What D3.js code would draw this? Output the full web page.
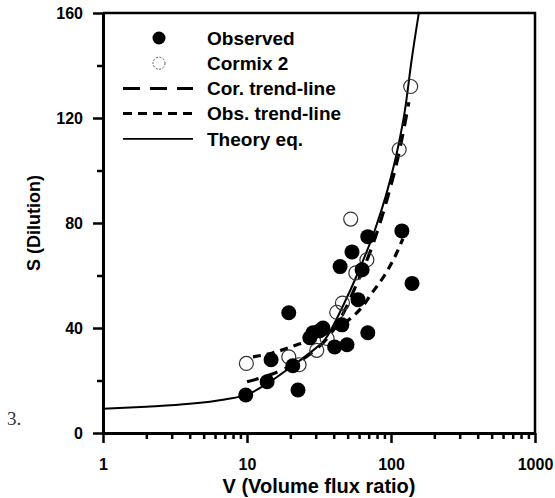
<!DOCTYPE html>
<html>
<head>
<meta charset="utf-8">
<script src="https://cdn.jsdelivr.net/npm/d3@7/dist/d3.min.js"></script>
<style>
  body { margin: 0; background: #fff; }
  svg { display: block; }
  text { font-family: "Liberation Sans", Arial, sans-serif; font-weight: bold; fill: #000; }
</style>
</head>
<body>
<svg id="chart"></svg>
<script>
// observed dilution (filled dots)
const obsV = [9.8, 13.8, 14.7, 19.5, 20.8, 22.6, 27.3, 28.7, 32, 33.7, 40.6, 44.3, 45.6, 49.5, 53.6, 59, 63, 69, 69, 119, 140];
const obsS = [14.5, 19.5, 27.9, 45.8, 25.6, 16.4, 36.3, 38.2, 39, 40, 32.8, 63.4, 41.2, 33.6, 69, 50.8, 62.2, 74.8, 38.2, 77, 57];

// Cormix 2 predictions (open circles)
const cormixV = [9.9, 19.5, 23, 30.5, 36, 42, 46, 57, 68, 52.5, 114, 137];
const cormixS = [26.5, 29, 26, 31.5, 36, 46, 49.5, 61, 66, 81.5, 108, 132];

// trend lines and theory curve
const corTrendV = [10, 15, 20, 28, 36, 46, 58, 75, 95, 115, 133];
const corTrendS = [19.5, 22.5, 25.5, 30.5, 36, 45, 57, 72, 90, 108, 126];
const obsTrendV = [11, 15, 22, 30, 40, 52, 63, 73, 90, 105, 121];
const obsTrendS = [29, 30.5, 33.5, 36, 39.5, 43.5, 48, 53, 60, 66.5, 74];
const theoryV = [1, 2, 4, 7, 10, 14, 20, 28, 35, 46, 60, 78, 95, 111, 125, 139, 156];
const theoryS = [9.2, 10, 11.1, 12.8, 14.6, 19, 25, 31, 35.8, 48, 62, 78, 93, 108, 123, 142, 160];

const xMajor = [1, 10, 100, 1000];
const yMajor = [0, 40, 80, 120, 160];
const yMinor = [20, 60, 100, 140];
const legendLabels = ['Observed', 'Cormix 2', 'Cor. trend-line', 'Obs. trend-line', 'Theory eq.'];

const W = 555, H = 498;
const plot = { left: 103, right: 535, top: 13, bottom: 433 };

const svg = d3.select('#chart').attr('width', W).attr('height', H);

const x = d3.scaleLog().domain([1, 1000]).range([plot.left, plot.right]);
const y = d3.scaleLinear().domain([0, 160]).range([plot.bottom, plot.top]);

const xMinor = [];
xMajor.slice(0, 3).forEach(d => { for (let k = 2; k <= 9; k++) xMinor.push(d * k); });

// frame (top and right)
svg.append('path')
  .attr('d', `M${plot.left},${plot.top}H${plot.right}V${plot.bottom}`)
  .attr('fill', 'none').attr('stroke', '#000').attr('stroke-width', 2.5);

// x axis
const gx = svg.append('g').attr('transform', `translate(0,${plot.bottom})`);
gx.append('g').call(d3.axisBottom(x).tickValues(xMinor).tickSize(6).tickFormat('').tickSizeOuter(0))
  .call(g => g.select('.domain').remove());
gx.append('g').call(d3.axisBottom(x).tickValues(xMajor).tickSize(10).tickPadding(16)
    .tickFormat(d3.format('d')).tickSizeOuter(0))
  .call(g => g.select('.domain').attr('stroke-width', 3));
gx.selectAll('line').attr('stroke-width', 2.5);
gx.selectAll('text').style('font-size', '16px').style('font-weight', 'bold');

// y axis
const gy = svg.append('g').attr('transform', `translate(${plot.left},0)`);
gy.append('g').call(d3.axisLeft(y).tickValues(yMinor).tickSize(6).tickFormat('').tickSizeOuter(0))
  .call(g => g.select('.domain').remove());
gy.append('g').call(d3.axisLeft(y).tickValues(yMajor).tickSize(10).tickPadding(10).tickSizeOuter(0))
  .call(g => g.select('.domain').attr('stroke-width', 3));
gy.selectAll('line').attr('stroke-width', 2.5);
gy.selectAll('text').style('font-size', '16px').style('font-weight', 'bold');

// axis titles
svg.append('text')
  .attr('x', (plot.left + plot.right) / 2).attr('y', 493)
  .style('text-anchor', 'middle').style('font-size', '20px')
  .text('V (Volume flux ratio)');

svg.append('text')
  .attr('transform', `translate(40,${(plot.top + plot.bottom) / 2}) rotate(-90)`)
  .style('text-anchor', 'middle').style('font-size', '18px')
  .text('S (Dilution)');

// stray figure number at the left
svg.append('text')
  .attr('x', 7).attr('y', 425)
  .style('font-family', '"Liberation Serif", "DejaVu Serif", serif')
  .style('font-weight', 'normal').style('font-size', '19px').style('fill', '#333')
  .text('3.');

// lines
const line = d3.line().x(d => x(d[0])).y(d => y(d[1])).curve(d3.curveMonotoneX);

svg.append('path')
  .datum(theoryV.map((v, i) => [v, theoryS[i]]))
  .attr('d', line).attr('fill', 'none').attr('stroke', '#000').attr('stroke-width', 2);

svg.append('path')
  .datum(corTrendV.map((v, i) => [v, corTrendS[i]]))
  .attr('d', line).attr('fill', 'none').attr('stroke', '#000').attr('stroke-width', 3.2)
  .attr('stroke-dasharray', '12,8');

svg.append('path')
  .datum(obsTrendV.map((v, i) => [v, obsTrendS[i]]))
  .attr('d', line).attr('fill', 'none').attr('stroke', '#000').attr('stroke-width', 3.2)
  .attr('stroke-dasharray', '8,6');

// points
svg.append('g').selectAll('circle')
  .data(cormixV.map((v, i) => [v, cormixS[i]]))
  .enter().append('circle')
  .attr('cx', d => x(d[0])).attr('cy', d => y(d[1])).attr('r', 7)
  .attr('fill', 'none').attr('stroke', '#333').attr('stroke-width', 1.2);

svg.append('g').selectAll('circle')
  .data(obsV.map((v, i) => [v, obsS[i]]))
  .enter().append('circle')
  .attr('cx', d => x(d[0])).attr('cy', d => y(d[1])).attr('r', 7.5)
  .attr('fill', '#000');

// legend
const legend = svg.append('g');
const rowY = i => 38 + i * 25.2;
legend.append('circle').attr('cx', 159).attr('cy', rowY(0)).attr('r', 6.5).attr('fill', '#000');
legend.append('circle').attr('cx', 159).attr('cy', rowY(1)).attr('r', 6)
  .attr('fill', 'none').attr('stroke', '#555').attr('stroke-width', 1).attr('stroke-dasharray', '2,1.5');
legend.append('line').attr('x1', 123).attr('x2', 193).attr('y1', rowY(2)).attr('y2', rowY(2))
  .attr('stroke', '#000').attr('stroke-width', 3).attr('stroke-dasharray', '17,10');
legend.append('line').attr('x1', 123).attr('x2', 193).attr('y1', rowY(3)).attr('y2', rowY(3))
  .attr('stroke', '#000').attr('stroke-width', 3).attr('stroke-dasharray', '9,6');
legend.append('line').attr('x1', 123).attr('x2', 193).attr('y1', rowY(4)).attr('y2', rowY(4))
  .attr('stroke', '#000').attr('stroke-width', 1.8);
legend.selectAll('text.lbl')
  .data(legendLabels)
  .enter().append('text').attr('class', 'lbl')
  .attr('x', 207).attr('y', (d, i) => rowY(i)).attr('dy', '0.36em')
  .style('font-size', '19px')
  .text(d => d);
</script>
</body>
</html>
